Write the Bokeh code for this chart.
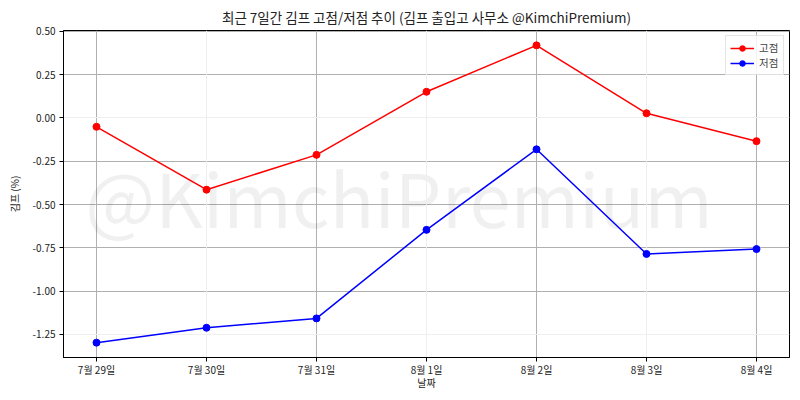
from bokeh.plotting import figure
from bokeh.models import (FixedTicker, PrintfTickFormatter, Range1d, Label,
                          Legend, LegendItem, ColumnDataSource, Grid)
from bokeh.embed import file_html
from bokeh.resources import INLINE

dates = ["7월 29일", "7월 30일", "7월 31일", "8월 1일", "8월 2일", "8월 3일", "8월 4일"]
high = [-0.051, -0.414, -0.213, 0.151, 0.419, 0.027, -0.134]
low = [-1.297, -1.211, -1.157, -0.646, -0.181, -0.785, -0.757]
y_ticks = [-1.25, -1.0, -0.75, -0.5, -0.25, 0.0, 0.25, 0.5]
y_faint_grid = [-1.25, 0.0]
title_text = "최근 7일간 김프 고점/저점 추이 (김프 출입고 사무소 @KimchiPremium)"
watermark = "@KimchiPremium"
high_name = "고점"
low_name = "저점"

FONT = "Noto Sans CJK KR"
idx = list(range(len(dates)))
src = ColumnDataSource(dict(x=idx, high=high, low=low))

ymin, ymax = min(low), max(high)
ypad = (ymax - ymin) * 0.05
xpad = (len(dates) - 1) * 0.05

p = figure(width=793, height=397, output_backend="svg", toolbar_location=None,
           x_range=Range1d(-xpad, len(dates) - 1 + xpad),
           y_range=Range1d(ymin - ypad, ymax + ypad),
           min_border_left=63, min_border_right=4, min_border_top=30,
           min_border_bottom=40)

p.background_fill_color = "white"
p.border_fill_color = "white"
p.outline_line_color = "black"
p.outline_line_width = 1

p.title.text = title_text
p.title.align = "center"
p.title.text_font = FONT
p.title.text_font_size = "13.5px"
p.title.text_font_style = "normal"
p.title.text_color = "#222222"
p.title.standoff = 7

wm = Label(x=(len(dates) - 1) / 2 - 0.25, y=(ymin + ymax) / 2 - 0.01, text=watermark,
           text_align="center", text_baseline="middle",
           text_font=FONT, text_font_size="74px", text_color="#000000",
           text_alpha=0.06, level="underlay")
p.add_layout(wm)

lh = p.line("x", "high", source=src, line_color="red", line_width=1.5)
sh = p.scatter("x", "high", source=src, size=7, fill_color="red", line_color="red")
ll = p.line("x", "low", source=src, line_color="blue", line_width=1.5)
sl = p.scatter("x", "low", source=src, size=7, fill_color="blue", line_color="blue")

legend = Legend(items=[LegendItem(label=high_name, renderers=[lh, sh]),
                       LegendItem(label=low_name, renderers=[ll, sl])],
                location="top_right")
legend.label_text_font = FONT
legend.label_text_font_size = "10.5px"
legend.label_height = 14
legend.glyph_height = 14
legend.glyph_width = 24
legend.spacing = 0
legend.padding = 4
legend.margin = 5
legend.label_standoff = 5
legend.border_line_color = "#cccccc"
legend.border_line_width = 1
legend.background_fill_alpha = 0.85
p.add_layout(legend)

p.xaxis.ticker = FixedTicker(ticks=idx)
p.xaxis.major_label_overrides = {i: d for i, d in zip(idx, dates)}
p.yaxis.ticker = FixedTicker(ticks=y_ticks)
p.yaxis.formatter = PrintfTickFormatter(format="%.2f")

p.xaxis.axis_label = "날짜"
p.yaxis.axis_label = "김프 (%)"
for ax in (p.xaxis, p.yaxis):
    ax.axis_label_text_font = FONT
    ax.axis_label_text_font_size = "10px"
    ax.axis_label_text_font_style = "normal"
    ax.axis_label_text_color = "#222222"
    ax.major_label_text_font = FONT
    ax.major_label_text_font_size = "10px"
    ax.major_label_text_color = "#222222"
    ax.axis_line_color = "black"
    ax.axis_line_width = 1
    ax.major_tick_line_color = "black"
    ax.major_tick_out = 4
    ax.major_tick_in = 0
    ax.minor_tick_line_color = None
p.xaxis.axis_label_standoff = -5
p.yaxis.axis_label_standoff = 8
p.xaxis.major_label_standoff = 0
p.yaxis.major_label_standoff = 4

# strong grid lines on alternate positions, faint ones elsewhere (as rendered)
x_strong = idx[0::2]
x_faint = idx[1::2]
y_strong = [t for t in y_ticks if t not in y_faint_grid]
p.xgrid.ticker = FixedTicker(ticks=x_strong)
p.ygrid.ticker = FixedTicker(ticks=y_strong)
p.grid.grid_line_color = "#b0b0b0"
p.grid.grid_line_width = 1
p.add_layout(Grid(dimension=0, ticker=FixedTicker(ticks=x_faint),
                  grid_line_color="#efefef", grid_line_width=1))
p.add_layout(Grid(dimension=1, ticker=FixedTicker(ticks=y_faint_grid),
                  grid_line_color="#efefef", grid_line_width=1))

open("out.html", "w").write(file_html(p, INLINE))
